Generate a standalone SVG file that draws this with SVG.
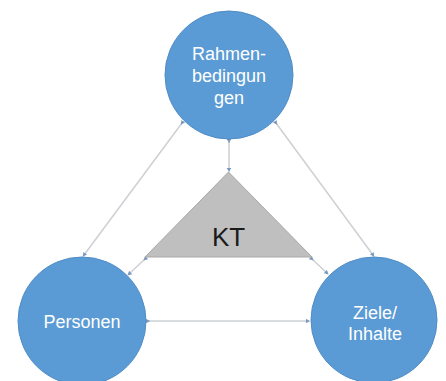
<svg xmlns="http://www.w3.org/2000/svg" width="446" height="381" viewBox="0 0 446 381">
<defs>
<style>
.circ{fill:#5b9bd5;stroke:#4f8cc6;stroke-width:1}
.lbl{font-family:"Liberation Sans",Arial,sans-serif;font-size:18px;fill:#ffffff;text-anchor:middle}
.con{stroke:#cdd0d4;stroke-width:1.5;fill:none;marker-start:url(#dot);marker-end:url(#dot)}
</style>
<marker id="dot" viewBox="0 0 6 6" refX="3" refY="3" markerWidth="3" markerHeight="3" markerUnits="strokeWidth" orient="auto">
<path d="M0,0 L6,3 L0,6 Z" fill="#7d98bd"/>
</marker>
</defs>
<rect width="446" height="381" fill="#ffffff"/>
<g id="connectors">
<line class="con" x1="182" y1="123" x2="84" y2="255"/>
<line class="con" x1="276" y1="123" x2="373" y2="255"/>
<line class="con" x1="229" y1="141" x2="229" y2="170"/>
<line class="con" x1="145" y1="259" x2="129" y2="274"/>
<line class="con" x1="312" y1="259" x2="327" y2="273"/>
<line class="con" x1="148" y1="321" x2="308" y2="321"/>
</g>
<g id="rahmen">
<circle class="circ" cx="229" cy="75" r="64"/>
<text class="lbl" x="229" y="60">Rahmen-</text>
<text class="lbl" x="229" y="82">bedingun</text>
<text class="lbl" x="229" y="104">gen</text>
</g>
<g id="kt">
<polygon points="228.5,172 145,257 312,257" fill="#bfbfbf" stroke="#a8a8a8" stroke-width="1"/>
<text x="228.5" y="246" font-family="Liberation Sans,Arial,sans-serif" font-size="26" fill="#1a1a1a" text-anchor="middle">KT</text>
</g>
<g id="personen">
<circle class="circ" cx="82" cy="321" r="64"/>
<text class="lbl" x="82" y="328">Personen</text>
</g>
<g id="ziele">
<circle class="circ" cx="374" cy="320" r="63"/>
<text class="lbl" x="375" y="319">Ziele/</text>
<text class="lbl" x="375" y="340">Inhalte</text>
</g>
</svg>
